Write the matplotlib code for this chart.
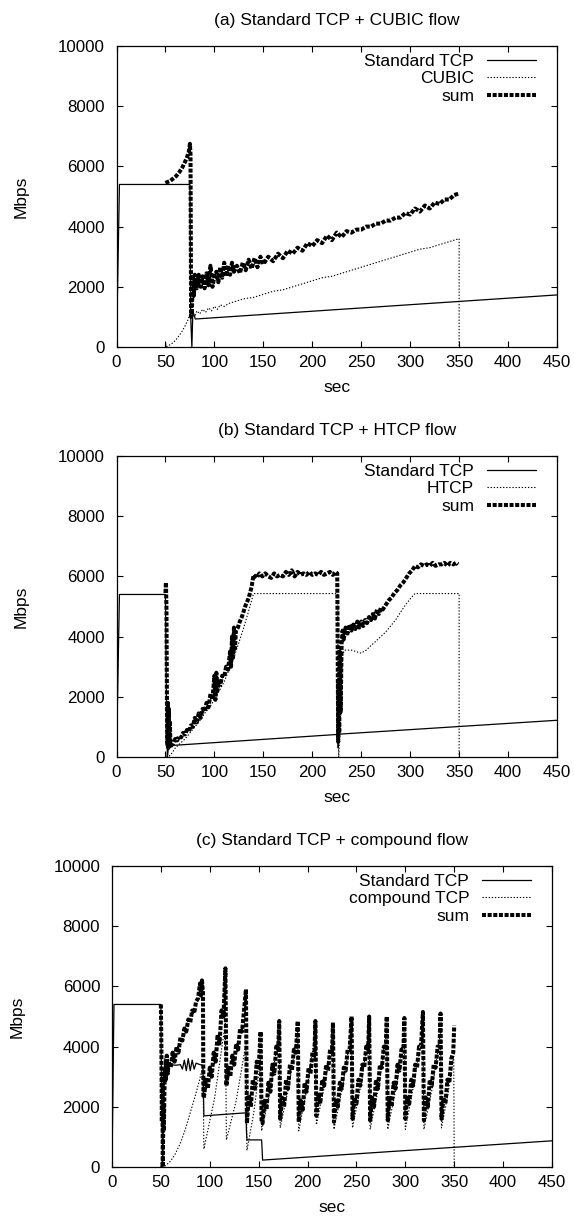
import matplotlib
matplotlib.use("Agg")
import matplotlib.pyplot as plt

plt.rcParams["font.family"] = ["Liberation Sans", "DejaVu Sans"]
FS = 12.5
TICK_FS = 12.2

# ── (a) Standard TCP + CUBIC ──────────────────────────────────────────────
a_tcp_x = [0, 3, 75, 75.8, 77, 78, 80.5, 450]
a_tcp_y = [0, 5400, 5400, 1000, 0, 1200, 930, 1730]

a_cubic_x = [50, 50.3, 50.6, 52, 55, 58, 61, 64, 67, 70,
             73, 75, 76, 77, 78, 80, 82, 85, 88, 91,
             94, 97, 100, 103, 106, 110, 115, 120, 125, 130,
             140, 150, 160, 170, 180, 190, 200, 210, 220, 230,
             240, 250, 260, 270, 280, 290, 300, 310, 320, 330,
             340, 345, 350, 350]
a_cubic_y = [0, 150, 0, 30, 80, 150, 250, 380, 520, 700,
             900, 1100, 1200, 1050, 1150, 1000, 1200, 1100, 1250, 1150,
             1300, 1200, 1350, 1250, 1400, 1350, 1450, 1500, 1550, 1600,
             1650, 1750, 1850, 1900, 2000, 2100, 2200, 2300, 2350, 2450,
             2550, 2650, 2750, 2850, 2950, 3050, 3150, 3250, 3300, 3400,
             3500, 3550, 3600, 0]

a_sum_x = [50, 52, 55, 58, 61, 64, 67, 70, 72, 74,
           75, 75.6, 76.2, 77, 78, 79, 80, 82, 84, 86,
           88, 90, 92, 94, 96, 98, 100, 102, 104, 106,
           108, 110, 112, 114, 116, 118, 120, 123, 126, 129,
           132, 135, 138, 141, 144, 147, 150, 155, 160, 165,
           170, 175, 180, 185, 190, 195, 200, 205, 210, 215,
           220, 225, 230, 235, 240, 245, 250, 255, 260, 265,
           270, 275, 280, 285, 290, 295, 300, 305, 310, 315,
           320, 325, 330, 335, 340, 345, 350]
a_sum_y = [5450, 5480, 5520, 5600, 5680, 5800, 5950, 6150, 6300, 6500,
           6750, 6400, 1000, 1200, 2400, 1700, 2400, 1950, 2400, 2000,
           2350, 1950, 2450, 2050, 2700, 2000, 2350, 2500, 2150, 2650,
           2300, 2800, 2350, 2700, 2400, 2800, 2500, 2700, 2450, 2800,
           2550, 2900, 2600, 2950, 2650, 3000, 2750, 3000, 2850, 3100,
           2950, 3200, 3100, 3300, 3200, 3450, 3350, 3550, 3450, 3700,
           3550, 3800, 3650, 3850, 3800, 3900, 3900, 4000, 4000, 4100,
           4100, 4200, 4200, 4300, 4300, 4450, 4400, 4600, 4500, 4700,
           4600, 4800, 4750, 4900, 4900, 5050, 5100]

# ── (b) Standard TCP + HTCP ───────────────────────────────────────────────
b_tcp_x = [0, 3, 50, 51, 52, 53, 55, 226, 226.5, 227, 228, 450]
b_tcp_y = [0, 5400, 5400, 2000, 0, 300, 380, 750, 300, 600, 760, 1220]

b_htcp_x = [50, 50.3, 50.6, 53, 56, 60, 65, 70, 75, 80,
            85, 90, 95, 100, 105, 110, 115, 120, 125, 130,
            135, 140, 226, 226.5, 227, 229, 231, 233, 240, 245,
            250, 255, 260, 265, 270, 275, 280, 285, 290, 295,
            300, 305, 350, 350]
b_htcp_y = [0, 150, 0, 0, 100, 300, 450, 600, 800, 1000,
            1200, 1450, 1650, 1900, 2200, 2500, 2900, 3300, 3800, 4300,
            4850, 5430, 5430, 1000, 0, 1500, 3400, 3550, 3550, 3500,
            3450, 3550, 3700, 3850, 4000, 4150, 4350, 4550, 4800, 5050,
            5250, 5430, 5430, 0]

b_sum_x = [50, 50.5, 51, 51.5, 52, 52.5, 53, 53.5, 54, 54.5,
           55, 56, 58, 60, 62, 64, 66, 68, 70, 72,
           74, 76, 78, 80, 82, 84, 86, 88, 90, 92,
           94, 96, 98, 100, 101, 102, 103, 104, 106, 108,
           110, 112, 114, 116, 117, 118, 119, 120, 121, 122,
           124, 126, 128, 130, 132, 134, 136, 138, 140, 143,
           146, 149, 152, 155, 158, 161, 164, 167, 170, 173,
           176, 179, 182, 185, 188, 191, 194, 197, 200, 203,
           206, 209, 212, 215, 218, 221, 224, 225.5, 226, 226.5,
           227, 227.5, 228, 229, 230, 231, 232, 234, 236, 238,
           240, 242, 244, 246, 248, 250, 252, 254, 256, 258,
           260, 262, 264, 266, 268, 270, 272, 275, 278, 281,
           284, 287, 290, 293, 296, 299, 302, 305, 308, 311,
           314, 317, 320, 323, 326, 329, 332, 335, 338, 341,
           344, 347, 349]
b_sum_y = [5450, 5800, 5000, 2000, 400, 1800, 300, 1600, 400, 1200,
           500, 380, 450, 600, 550, 700, 650, 800, 750, 900,
           850, 1050, 1000, 1300, 1150, 1450, 1300, 1600, 1500, 1800,
           1650, 2100, 1900, 2700, 1900, 2800, 2200, 2500, 2400, 2700,
           2650, 3000, 2900, 3500, 3000, 4000, 3300, 4300, 3600, 4200,
           4300, 4500, 4650, 4850, 5050, 5200, 5400, 5650, 6050, 5950,
           6100, 6000, 6100, 6000, 5950, 6100, 6000, 6050, 6000, 6150,
           6050, 6200, 6000, 6150, 6050, 6100, 6050, 6150, 6050, 6100,
           6050, 6150, 6050, 6100, 6150, 6050, 6150, 6100, 3000, 500,
           2500, 800, 3500, 1500, 3800, 4200, 3900, 4300, 4100, 4400,
           4200, 4400, 4250, 4500, 4300, 4500, 4350, 4550, 4450, 4650,
           4550, 4750, 4600, 4900, 4750, 4950, 4900, 5050, 5200, 5300,
           5450, 5550, 5700, 5800, 5950, 6100, 6200, 6350, 6300, 6400,
           6350, 6400, 6350, 6450, 6350, 6400, 6400, 6450, 6350, 6450,
           6400, 6450, 6400]

# ── (c) Standard TCP + compound ───────────────────────────────────────────
c_tcp_x = [0, 2, 50, 50.5, 52, 53, 54, 55, 56, 60,
           65, 70, 72, 74, 76, 78, 80, 82, 84, 86,
           90, 93, 93.5, 94, 137, 137.5, 138, 153, 153.5, 154,
           450]
c_tcp_y = [0, 5400, 5400, 3000, 0, 2800, 3600, 3200, 3450, 3400,
           3380, 3400, 3250, 3550, 3200, 3600, 3200, 3550, 3250, 3450,
           3400, 3380, 2500, 1700, 1800, 1200, 900, 900, 600, 230,
           870]

c_comp_x = [50, 50.3, 50.6, 52, 55, 60, 65, 70, 75, 80,
            85, 90, 93, 94, 105, 116, 117, 127, 137, 138,
            145, 152, 153, 162, 171, 172, 181, 190, 191, 200,
            208, 209, 218, 226, 227, 236, 245, 246, 255, 263,
            264, 273, 281, 282, 291, 299, 300, 309, 318, 319,
            328, 336, 337, 344, 349.5, 350]
c_comp_y = [0, 150, 0, 0, 50, 200, 450, 800, 1250, 1800,
            2350, 2950, 3300, 600, 2300, 4800, 900, 2200, 4100, 550,
            1800, 3600, 1200, 2600, 4500, 1300, 2700, 4500, 1200, 2700,
            4500, 1400, 2800, 4400, 1250, 2700, 4550, 1300, 2800, 4550,
            1250, 2700, 4500, 1250, 2700, 4450, 1250, 2800, 4600, 1250,
            2700, 4500, 1300, 2500, 3700, 0]

c_sum_x = [50, 50.5, 51, 51.5, 52, 52.5, 53, 54, 55, 56,
           57, 58, 60, 62, 64, 66, 68, 70, 72, 74,
           76, 78, 80, 82, 84, 86, 88, 90, 91, 92,
           93, 93.5,
           94, 96, 98, 100, 102, 104, 106, 108, 110, 112, 114, 116, 117,
           119, 121, 123, 125, 127, 129, 131, 133, 135, 137, 138,
           140, 142, 144, 146, 148, 150, 152, 153,
           154, 156, 158, 160, 162, 164, 166, 168, 170, 171,
           172, 174, 176, 178, 180, 182, 184, 186, 188, 190,
           191, 193, 195, 197, 199, 201, 203, 205, 207, 208,
           209, 211, 213, 215, 217, 219, 221, 223, 225, 226,
           227, 229, 231, 233, 235, 237, 239, 241, 243, 245,
           246, 248, 250, 252, 254, 256, 258, 260, 262, 263,
           264, 266, 268, 270, 272, 274, 276, 278, 280, 281,
           282, 284, 286, 288, 290, 292, 294, 296, 298, 299,
           300, 302, 304, 306, 308, 310, 312, 314, 316, 318,
           319, 321, 323, 325, 327, 329, 331, 333, 335, 336,
           337, 339, 341, 343, 345, 347, 349, 350]
c_sum_y = [5400, 4000, 1500, 3000, 0, 2000, 1200, 3300, 2900, 3700,
           3100, 3500, 3300, 3800, 3500, 4000, 3800, 4300, 4200, 4600,
           4500, 4900, 4800, 5200, 5100, 5500, 5600, 6100, 5700, 6200,
           5800, 2300,
           2300, 2900, 2600, 3300, 3000, 3800, 3500, 4400, 4100, 5200, 5000, 6600, 2700,
           3300, 3000, 3700, 3400, 4100, 3900, 4600, 4500, 5200, 5900, 1450,
           2400, 2000, 2900, 2600, 3500, 3300, 4500, 1500,
           1450, 2200, 1900, 2800, 2500, 3400, 3100, 4000, 3900, 4850,
           1600, 2300, 2000, 2900, 2600, 3400, 3200, 3900, 3800, 4850,
           1500, 2200, 1900, 2800, 2500, 3300, 3100, 3800, 3700, 4850,
           1700, 2400, 2100, 2900, 2700, 3400, 3200, 3900, 3800, 4800,
           1500, 2200, 2000, 2800, 2600, 3300, 3200, 3900, 3900, 5000,
           1600, 2300, 2100, 2900, 2700, 3400, 3300, 4000, 3900, 5000,
           1550, 2300, 2000, 2900, 2600, 3400, 3300, 4000, 3900, 5000,
           1550, 2300, 2000, 2800, 2600, 3400, 3200, 3900, 3900, 4950,
           1600, 2300, 2100, 2900, 2700, 3400, 3300, 4000, 4000, 5150,
           1550, 2300, 2000, 2900, 2700, 3400, 3300, 4000, 4000, 5100,
           1600, 2300, 2100, 2900, 2800, 3600, 3800, 4700]

panels = [
    ("(a) Standard TCP + CUBIC flow", "CUBIC",
     (a_tcp_x, a_tcp_y), (a_cubic_x, a_cubic_y), (a_sum_x, a_sum_y)),
    ("(b) Standard TCP + HTCP flow", "HTCP",
     (b_tcp_x, b_tcp_y), (b_htcp_x, b_htcp_y), (b_sum_x, b_sum_y)),
    ("(c) Standard TCP + compound flow", "compound TCP",
     (c_tcp_x, c_tcp_y), (c_comp_x, c_comp_y), (c_sum_x, c_sum_y)),
]

W, H = 574, 1218
# axes boxes in pixels: left, top, right, bottom
boxes = [(116.5, 46, 557, 347), (116.5, 456, 557, 757), (112, 866, 552, 1167)]

fig = plt.figure(figsize=(W / 100, H / 100), dpi=100)

for (title, name, tcp, other, total), (l, t, r, b) in zip(panels, boxes):
    ax = fig.add_axes([l / W, 1 - b / H, (r - l) / W, (b - t) / H])
    ax.plot(*tcp, color="black", lw=0.9, label="Standard TCP")
    ax.plot(*other, color="black", lw=0.8, dashes=(1.2, 1.6), label=name)
    ax.plot(*total, color="black", lw=2.9, dashes=(1.0, 0.4), label="sum")

    ax.set_xlim(0, 450)
    ax.set_ylim(0, 10000)
    ax.set_xticks(range(0, 451, 50))
    ax.set_yticks(range(0, 10001, 2000))
    ax.tick_params(direction="in", top=True, right=True, length=4,
                   width=0.8, labelsize=TICK_FS)
    ax.tick_params(axis="y", pad=8.5)
    ax.tick_params(axis="x", pad=6)
    for sp in ax.spines.values():
        sp.set_linewidth(0.9)

    ax.set_title(title, fontsize=FS, pad=15)
    ax.set_xlabel("sec", fontsize=FS)
    ax.set_ylabel("Mbps", fontsize=FS)
    ax.xaxis.set_label_coords(0.5, -0.11)
    ax.yaxis.set_label_coords(-0.199, 0.5)

    ax.legend(loc="upper right", bbox_to_anchor=(0.952, 0.975),
              frameon=False, markerfirst=False, handlelength=2.8,
              handletextpad=0.75, labelspacing=0.15, borderpad=0,
              borderaxespad=0, fontsize=FS)

fig.savefig("out.png", dpi=100)
